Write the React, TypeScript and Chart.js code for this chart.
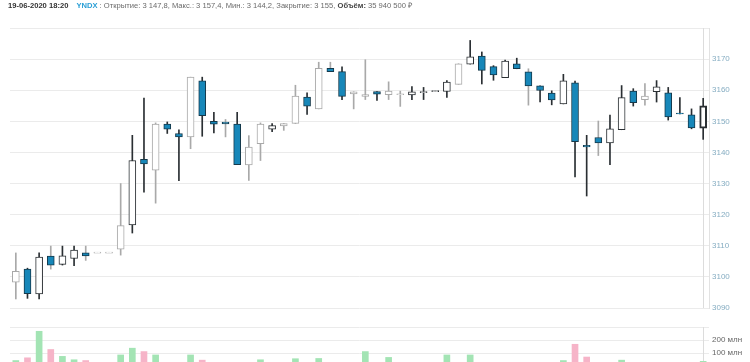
import React, { useEffect, useRef } from "react";
import { Chart, registerables } from "chart.js";

Chart.register(...registerables);

const times = [
  "13:25", "13:30", "13:35", "13:40", "13:45", "13:50", "13:55", "14:00", "14:05", "14:10",
  "14:15", "14:20", "14:25", "14:30", "14:35", "14:40", "14:45", "14:50", "14:55", "15:00",
  "15:05", "15:10", "15:15", "15:20", "15:25", "15:30", "15:35", "15:40", "15:45", "15:50",
  "15:55", "16:00", "16:05", "16:10", "16:15", "16:20", "16:25", "16:30", "16:35", "16:40",
  "16:45", "16:50", "16:55", "17:00", "17:05", "17:10", "17:15", "17:20", "17:25", "17:30",
  "17:35", "17:40", "17:45", "17:50", "17:55", "18:00", "18:05", "18:10", "18:15", "18:20",
];

const opens = [
  3098.3, 3102.5, 3094.5, 3106.7, 3104.0, 3105.9, 3107.7, 3107.8, 3107.8, 3108.9,
  3116.7, 3137.8, 3134.3, 3149.1, 3146.1, 3145.0, 3163.0, 3150.0, 3149.8, 3149.1,
  3136.0, 3142.8, 3147.5, 3148.5, 3149.3, 3157.8, 3154.0, 3167.0, 3166.0, 3158.8,
  3158.0, 3159.6, 3158.6, 3158.7, 3158.5, 3159.4, 3159.7, 3159.6, 3161.9, 3168.4,
  3171.0, 3167.6, 3164.0, 3168.5, 3165.9, 3161.4, 3159.1, 3155.6, 3162.4, 3142.3,
  3144.8, 3143.1, 3147.3, 3159.7, 3157.0, 3159.5, 3159.2, 3152.6, 3152.1, 3147.8,
];

const highs = [
  3107.7, 3102.8, 3107.7, 3109.9, 3109.9, 3109.9, 3109.9, 3107.8, 3107.8, 3130.0,
  3145.5, 3157.5, 3149.5, 3149.8, 3147.3, 3164.2, 3164.2, 3152.9, 3150.6, 3152.9,
  3145.4, 3149.5, 3149.3, 3149.3, 3161.6, 3159.2, 3169.0, 3169.0, 3167.5, 3159.5,
  3169.8, 3159.6, 3162.7, 3159.7, 3161.2, 3160.9, 3159.7, 3163.1, 3168.5, 3176.0,
  3172.3, 3167.9, 3169.7, 3170.3, 3166.9, 3161.4, 3159.8, 3165.1, 3162.9, 3145.5,
  3150.1, 3152.0, 3161.5, 3160.5, 3162.1, 3163.1, 3160.9, 3157.6, 3154.0, 3157.4,
];

const lows = [
  3092.9, 3093.1, 3092.9, 3102.5, 3103.8, 3103.6, 3105.3, 3107.8, 3107.8, 3107.0,
  3114.1, 3127.2, 3123.7, 3146.1, 3130.9, 3141.2, 3145.2, 3146.3, 3145.0, 3136.1,
  3131.0, 3137.4, 3146.7, 3147.1, 3149.3, 3152.2, 3154.0, 3166.0, 3157.0, 3154.0,
  3157.0, 3156.7, 3157.0, 3154.8, 3157.0, 3157.0, 3159.7, 3157.7, 3161.9, 3168.4,
  3162.0, 3163.2, 3164.0, 3166.9, 3155.2, 3156.2, 3155.3, 3155.6, 3132.1, 3126.0,
  3139.0, 3136.1, 3147.3, 3154.9, 3155.2, 3156.2, 3150.4, 3152.4, 3147.6, 3144.2,
];

const closes = [
  3101.8, 3094.6, 3106.4, 3103.8, 3106.8, 3108.6, 3106.7, 3107.8, 3107.8, 3116.5,
  3137.4, 3136.3, 3149.1, 3147.5, 3145.0, 3164.2, 3151.8, 3149.1, 3149.2, 3136.1,
  3141.7, 3149.1, 3148.6, 3149.3, 3158.1, 3154.9, 3167.0, 3166.0, 3158.0, 3159.5,
  3158.6, 3158.7, 3159.7, 3158.7, 3159.5, 3159.4, 3159.7, 3162.6, 3168.5, 3170.7,
  3166.4, 3164.9, 3169.4, 3166.9, 3161.4, 3159.9, 3156.9, 3163.0, 3143.5, 3141.8,
  3143.1, 3147.6, 3157.6, 3156.0, 3158.1, 3161.1, 3151.4, 3152.4, 3147.9, 3155.0,
];

// volumes, millions
const volumes = [
  42, 63, 267, 127, 74, 48, 42, 12, 10, 85,
  137, 111, 85, 22, 24, 85, 45, 20, 15, 26,
  25, 48, 18, 15, 56, 24, 58, 20, 26, 18,
  111, 15, 66, 12, 20, 14, 10, 85, 28, 85,
  26, 22, 25, 18, 24, 20, 22, 42, 167, 69,
  24, 26, 45, 25, 18, 22, 24, 15, 25, 35.94,
];

// 1 = light grey outline / wick
const muted = [
  1, 0, 0, 1, 0, 0, 1, 1, 1, 1,
  0, 0, 1, 0, 0, 1, 0, 0, 1, 0,
  1, 1, 0, 1, 1, 0, 1, 1, 0, 1,
  1, 0, 1, 1, 0, 0, 0, 0, 1, 0,
  0, 0, 0, 0, 1, 0, 0, 0, 0, 0,
  1, 0, 0, 0, 1, 0, 0, 0, 0, 0,
];

const priceTicks = [3090, 3100, 3110, 3120, 3130, 3140, 3150, 3160, 3170, 3180];
const volumeTicks = [100, 200, 300];

const FONT = "'Liberation Sans', Arial, sans-serif";
const BLUE = "#1787b9";
const DARK = "#2a2f33";
const GREY = "#a9a9a9";
const LAST = times.length - 1;

const crosshair = {
  id: "crosshair",
  beforeDatasetsDraw(chart: any) {
    const x = Math.round(chart.scales.x.getPixelForValue(LAST)) + 0.5;
    const { top, bottom } = chart.chartArea;
    const ctx = chart.ctx;
    ctx.save();
    ctx.strokeStyle = "#dcdcdc";
    ctx.lineWidth = 1;
    ctx.beginPath();
    ctx.moveTo(x, top);
    ctx.lineTo(x, bottom);
    ctx.stroke();
    ctx.restore();
  },
};

function PriceChart() {
  const ref = useRef<HTMLCanvasElement>(null);
  useEffect(() => {
    const up = closes.map((c, i) => c >= opens[i]);
    const bodies = opens.map((o, i) => {
      let lo = Math.min(o, closes[i]);
      let hi = Math.max(o, closes[i]);
      if (hi - lo < 0.3) {
        const m = (hi + lo) / 2;
        lo = m - 0.15;
        hi = m + 0.15;
      }
      return [lo, hi];
    });
    const wicks = lows.map((l, i) => [l, highs[i]]);
    const chart = new Chart(ref.current!, {
      type: "bar",
      data: {
        labels: times,
        datasets: [
          {
            data: bodies as any,
            barThickness: 7,
            grouped: false,
            order: 1,
            borderSkipped: false,
            backgroundColor: up.map((u) => (u ? "#ffffff" : BLUE)),
            borderColor: up.map((u, i) => (u ? (muted[i] ? GREY : DARK) : "#15394b")),
            borderWidth: up.map((u, i) => (i === LAST ? 2 : 1)),
          } as any,
          {
            data: wicks as any,
            barThickness: 1,
            grouped: false,
            order: 2,
            borderWidth: 0,
            backgroundColor: muted.map((m) => (m ? GREY : DARK)),
          } as any,
        ],
      },
      options: {
        animation: false,
        responsive: true,
        maintainAspectRatio: false,
        layout: { padding: { left: 10, top: 28, right: 0, bottom: 12 } },
        plugins: { legend: { display: false }, tooltip: { enabled: false } },
        events: [],
        scales: {
          x: { type: "category", display: false, offset: true },
          y: {
            position: "right",
            min: priceTicks[0],
            max: priceTicks[priceTicks.length - 1],
            afterBuildTicks: (s: any) => {
              s.ticks = priceTicks.map((v) => ({ value: v }));
            },
            afterFit: (s: any) => {
              s.width = 41;
            },
            ticks: {
              color: "#86adc2",
              font: { family: FONT, size: 8 },
              padding: 3,
              callback: (v: any) => (v === 3180 ? "" : String(v)),
            },
            grid: { color: "#ebebeb", drawTicks: false },
            border: { display: true, color: "#e2e2e2" },
          },
        },
      },
      plugins: [crosshair],
    });
    return () => chart.destroy();
  }, []);
  return (
    <div style={{ position: "fixed", left: 0, top: 0, width: 750, height: 320 }}>
      <canvas ref={ref} />
    </div>
  );
}

function VolumeChart() {
  const ref = useRef<HTMLCanvasElement>(null);
  useEffect(() => {
    const up = closes.map((c, i) => c >= opens[i]);
    const chart = new Chart(ref.current!, {
      type: "bar",
      data: {
        labels: times,
        datasets: [
          {
            data: volumes,
            barThickness: 6,
            borderWidth: 0,
            backgroundColor: up.map((u) => (u ? "#a3e4b4" : "#f6b4c8")),
          } as any,
        ],
      },
      options: {
        animation: false,
        responsive: true,
        maintainAspectRatio: false,
        layout: { padding: { left: 10, top: 10, right: 0, bottom: 10 } },
        plugins: { legend: { display: false }, tooltip: { enabled: false } },
        events: [],
        scales: {
          x: { type: "category", display: false, offset: true },
          y: {
            position: "right",
            min: 0,
            max: 300,
            afterBuildTicks: (s: any) => {
              s.ticks = volumeTicks.map((v) => ({ value: v }));
            },
            afterFit: (s: any) => {
              s.width = 41;
            },
            ticks: {
              color: "#666666",
              font: { family: FONT, size: 8 },
              padding: 3,
              callback: (v: any) => (v === 300 ? "" : `${v} млн`),
            },
            grid: { color: "#ebebeb", drawTicks: false },
            border: { display: false },
          },
        },
      },
      plugins: [crosshair],
    });
    return () => chart.destroy();
  }, []);
  return (
    <div style={{ position: "fixed", left: 0, top: 317, width: 750, height: 59 }}>
      <canvas ref={ref} />
    </div>
  );
}

export default function App() {
  const i = LAST;
  const fmt = (v: number) => {
    const [a, b] = v.toFixed(1).split(".");
    const int = a.replace(/\B(?=(\d{3})+(?!\d))/g, " ");
    return b === "0" ? int : `${int},${b}`;
  };
  return (
    <div>
      <div
        style={{
          position: "fixed",
          left: 8,
          top: 1,
          fontFamily: FONT,
          fontSize: 7.6,
          lineHeight: "10px",
          whiteSpace: "nowrap",
          color: "#6a6a6a",
        }}
      >
        <b style={{ color: "#333", marginRight: 8 }}>19-06-2020 18:20</b>
        <b style={{ color: "#2a9fd6" }}>YNDX</b>
        {` : Открытие: ${fmt(opens[i])}, Макс.: ${fmt(highs[i])}, Мин.: ${fmt(lows[i])}, Закрытие: ${fmt(closes[i])}, `}
        <b style={{ color: "#444" }}>Объём:</b>
        {" 35 940 500 ₽"}
      </div>
      <PriceChart />
      <VolumeChart />
    </div>
  );
}
